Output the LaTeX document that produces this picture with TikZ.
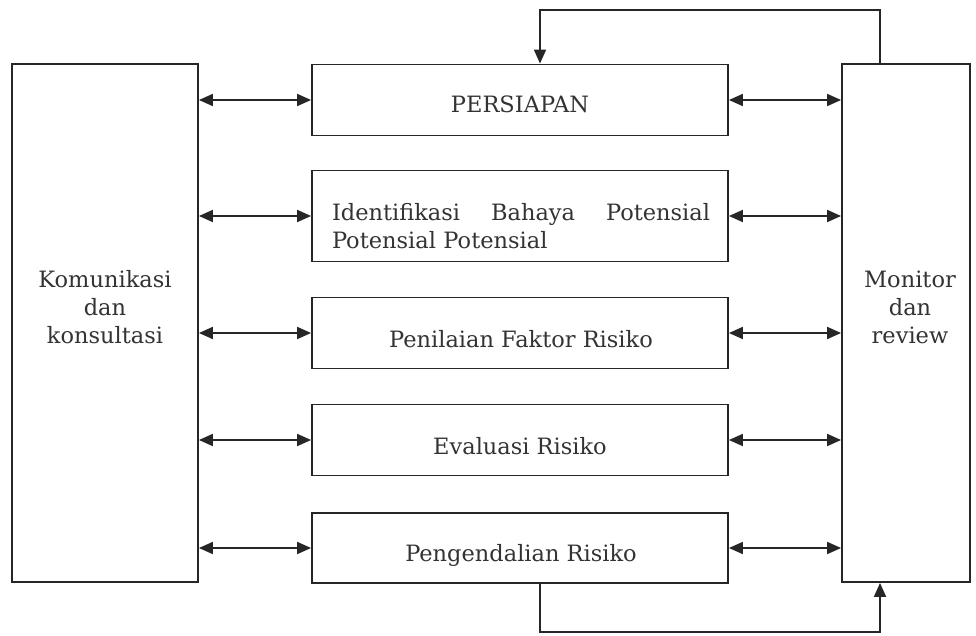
\documentclass[tikz,border=0pt]{standalone}
\usepackage{fontspec}
\setmainfont{DejaVu Serif}
\usetikzlibrary{arrows.meta}
\tikzset{
  box/.style={draw=black!85, line width=1.8pt, rectangle, inner sep=0pt},
  lbl/.style={text=black!80, inner sep=0pt, font=\fontsize{22.5}{28}\selectfont},
  link/.style={draw=black!85, line width=1.8pt},
  dbl/.style={link, {Triangle[length=14pt,width=12pt]}-{Triangle[length=14pt,width=12pt]}},
  one/.style={link, -{Triangle[length=14pt,width=12pt]}}
}
\begin{document}
\begin{tikzpicture}[x=1pt,y=-1pt]
\useasboundingbox (0,0) rectangle (976,636);
% side boxes
\node[box, minimum width=186pt, minimum height=518pt] (L) at (105,323) {};
\node[box, minimum width=128pt, minimum height=518pt] (R) at (906,323) {};
% middle boxes
\node[box, minimum width=416pt, minimum height=71pt] (P1) at (520,100) {};
\node[box, minimum width=416pt, minimum height=91pt] (P2) at (520,216) {};
\node[box, minimum width=416pt, minimum height=71pt] (P3) at (520,333) {};
\node[box, minimum width=416pt, minimum height=71pt] (P4) at (520,440) {};
\node[box, minimum width=416pt, minimum height=70pt] (P5) at (520,548) {};
% texts
\node[lbl, align=center] (tL) at (105,307) {Komunikasi\\dan\\konsultasi};
\node[lbl, align=center] (tR) at (910,307) {Monitor\\dan\\review};
\node[lbl, anchor=base] (t1) at (520,113) {PERSIAPAN};
\node[lbl, align=left, text width=378pt] (t2) at (521,226) {\makebox[378pt][l]{Identifikasi\hfill Bahaya\hfill Potensial}\\Potensial Potensial};
\node[lbl, anchor=base] (t3) at (521,347) {Penilaian Faktor Risiko};
\node[lbl, anchor=base] (t4) at (520,454) {Evaluasi Risiko};
\node[lbl, anchor=base] (t5) at (521,561) {Pengendalian Risiko};
% double arrows
\foreach \n in {P1,P2,P3,P4,P5}{
  \draw[dbl] (L.east |- \n.west) -- (\n.west);
  \draw[dbl] (\n.east) -- (R.west |- \n.east);
}
% feedback loops
\coordinate (topR) at (880,10);
\coordinate (topL) at (540,10);
\coordinate (botL) at (540,632);
\coordinate (botR) at (880,632);
\draw[one] (topR |- R.north) -- (topR) -- (topL) -- (topL |- P1.north);
\draw[one] (botL |- P5.south) -- (botL) -- (botR) -- (botR |- R.south);
\end{tikzpicture}
\end{document}
